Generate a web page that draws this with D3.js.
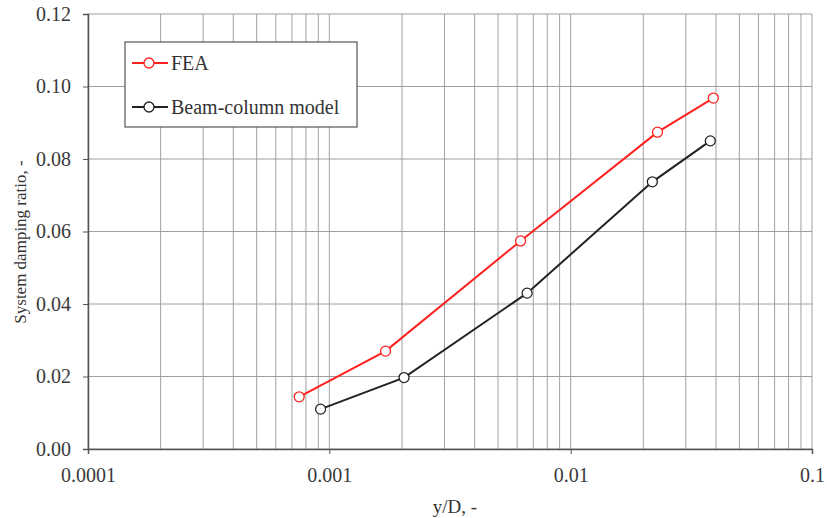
<!DOCTYPE html>
<html lang="en">
<head>
<meta charset="utf-8"/>
<title>System damping ratio</title>
<script src="https://cdn.jsdelivr.net/npm/d3@7"></script>
<style>
  body { margin: 0; background: #fff; }
  text { font-family: "Liberation Serif", "DejaVu Serif", serif; fill: #333; }
</style>
</head>
<body>
<svg id="chart" width="827" height="518"></svg>
<script>
// data
const feaX = [0.00075, 0.00171, 0.0062, 0.0229, 0.039];
const feaY = [0.0144, 0.0270, 0.0574, 0.0874, 0.0968];
const beamX = [0.00092, 0.00204, 0.0066, 0.0218, 0.0379];
const beamY = [0.0110, 0.0197, 0.0430, 0.0737, 0.0850];
const yTicks = [0, 0.02, 0.04, 0.06, 0.08, 0.10, 0.12];
const xTicks = [0.0001, 0.001, 0.01, 0.1];
const xTickLabels = ['0.0001', '0.001', '0.01', '0.1'];

const svg = d3.select('#chart');
const pLeft = 88, pRight = 812, pTop = 14, pBottom = 449;

const x = d3.scaleLog().domain([0.0001, 0.1]).range([pLeft, pRight]);
const y = d3.scaleLinear().domain([0, 0.12]).range([pBottom, pTop]);

// minor log grid
const minor = [];
for (let d = 0.0001; d < 0.1; d *= 10) {
  for (let k = 1; k <= 9; k++) minor.push(d * k);
}
minor.push(0.1);

const grid = svg.append('g');
grid.selectAll('line.v').data(minor).enter().append('line')
  .attr('x1', d => x(d)).attr('x2', d => x(d))
  .attr('y1', pTop).attr('y2', pBottom)
  .style('stroke', '#a0a0a0').style('stroke-width', 1);
grid.selectAll('line.h').data(yTicks).enter().append('line')
  .attr('x1', pLeft).attr('x2', pRight)
  .attr('y1', d => y(d)).attr('y2', d => y(d))
  .style('stroke', '#a0a0a0').style('stroke-width', 1);

// axes
const xAxis = svg.append('g').attr('transform', 'translate(0,' + pBottom + ')')
  .call(d3.axisBottom(x).tickValues(xTicks).tickFormat((d, i) => xTickLabels[i]).tickSize(5).tickPadding(14));
const yAxis = svg.append('g').attr('transform', 'translate(' + pLeft + ',0)')
  .call(d3.axisLeft(y).tickValues(yTicks).tickFormat(d3.format('.2f')).tickSize(5).tickPadding(12));
[xAxis, yAxis].forEach(a => {
  a.select('.domain').style('stroke', '#555').style('stroke-width', 1.5);
  a.selectAll('.tick line').style('stroke', '#555');
  a.selectAll('text').style('font-size', '20px').style('font-family', '"Liberation Serif", serif').style('fill', '#3a3a3a');
});

// series
const series = [
  { name: 'FEA', xs: feaX, ys: feaY, color: '#ff2020' },
  { name: 'Beam-column model', xs: beamX, ys: beamY, color: '#222' }
];
const line = d3.line().x(d => x(d[0])).y(d => y(d[1]));
series.forEach(s => {
  const pts = s.xs.map((v, i) => [v, s.ys[i]]);
  svg.append('path').attr('d', line(pts))
    .style('fill', 'none').style('stroke', s.color).style('stroke-width', 2);
  svg.append('g').selectAll('circle').data(pts).enter().append('circle')
    .attr('cx', d => x(d[0])).attr('cy', d => y(d[1])).attr('r', 5)
    .style('fill', '#fff').style('stroke', s.color).style('stroke-width', 1.3);
});

// legend
const lg = svg.append('g');
lg.append('rect').attr('x', 125).attr('y', 42).attr('width', 232).attr('height', 85)
  .style('fill', '#fff').style('stroke', '#555').style('stroke-width', 1.2);
series.forEach((s, i) => {
  const cy = 63 + i * 44;
  lg.append('line').attr('x1', 132).attr('x2', 168).attr('y1', cy).attr('y2', cy)
    .style('stroke', s.color).style('stroke-width', 2);
  lg.append('circle').attr('cx', 149).attr('cy', cy).attr('r', 5)
    .style('fill', '#fff').style('stroke', s.color).style('stroke-width', 1.3);
  lg.append('text').attr('x', 171).attr('y', cy + 7).text(s.name).style('font-size', '20px');
});

// axis titles
svg.append('text').attr('x', 455).attr('y', 513).attr('text-anchor', 'middle')
  .style('font-size', '19px').text('y/D, -');
svg.append('text').attr('transform', 'translate(26,242) rotate(-90)')
  .attr('text-anchor', 'middle').style('font-size', '17px').text('System damping  ratio, -');
</script>
</body>
</html>
